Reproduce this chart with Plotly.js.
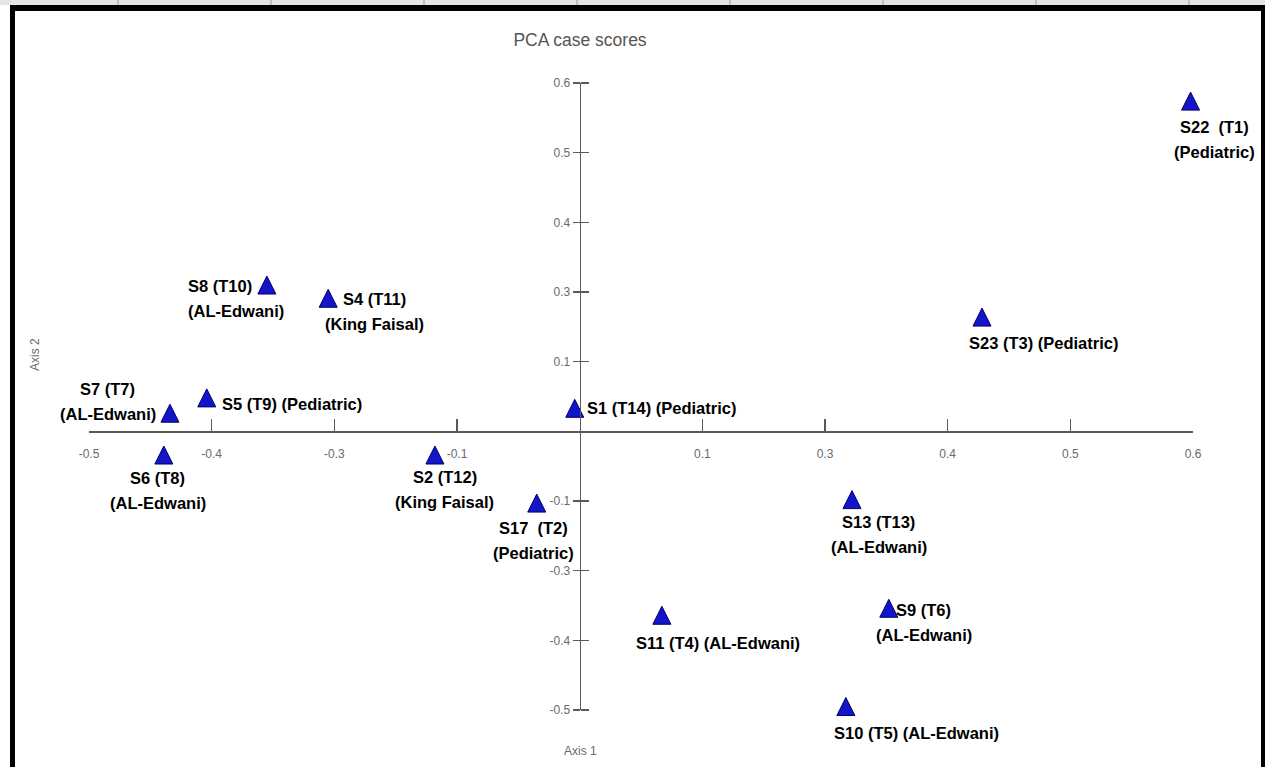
<!DOCTYPE html>
<html>
<head>
<meta charset="utf-8">
<script src="https://cdn.plot.ly/plotly-3.0.1.min.js"></script>
<style>
  html, body { margin: 0; padding: 0; background: #ffffff; }
  #chart { width: 1265px; height: 767px; }
</style>
</head>
<body>
<div id="chart"></div>
<script>
// ---- Data (axis units: one tick step = 0.1) ----
const sampleNames = ['S22','S23','S8','S4','S5','S7','S6','S1','S2','S17','S13','S9','S11','S10'];
const axis1Scores = [0.498, 0.328, -0.255, -0.205, -0.304, -0.334, -0.339, -0.004, -0.118, -0.035, 0.222, 0.252, 0.067, 0.217];
const axis2Scores = [0.474, 0.164, 0.210, 0.191, 0.048, 0.026, -0.034, 0.033, -0.034, -0.103, -0.098, -0.254, -0.264, -0.395];
const pointLabels = [
  'S22  (T1)<br>(Pediatric)',
  'S23 (T3) (Pediatric)',
  'S8 (T10)<br>(AL-Edwani)',
  'S4 (T11)<br>(King Faisal)',
  'S5 (T9) (Pediatric)',
  'S7 (T7)<br>(AL-Edwani)',
  'S6 (T8)<br>(AL-Edwani)',
  'S1 (T14) (Pediatric)',
  'S2 (T12)<br>(King Faisal)',
  'S17  (T2)<br>(Pediatric)',
  'S13 (T13)<br>(AL-Edwani)',
  'S9 (T6)<br>(AL-Edwani)',
  'S11 (T4) (AL-Edwani)',
  'S10 (T5) (AL-Edwani)'
];
const xTickVals = [-0.4, -0.3, -0.2, -0.1, 0.1, 0.2, 0.3, 0.4, 0.5];
const xTickText = ['-0.5', '-0.4', '-0.3', '-0.1', '0.1', '0.3', '0.4', '0.5', '0.6'];
const yTickVals = [0.5, 0.4, 0.3, 0.2, 0.1, -0.1, -0.2, -0.3, -0.4];
const yTickText = ['0.6', '0.5', '0.4', '0.3', '0.1', '-0.1', '-0.3', '-0.4', '-0.5'];

// ---- Label placement (pixel offsets of the label block centre from each marker) ----
const labelPlacement = [
  {anchor:'center', dx: 24, dy: 38},
  {anchor:'left',   dx:-15, dy: 26},
  {anchor:'left',   dx:-81, dy: 13},
  {anchor:'center', dx: 46, dy: 13},
  {anchor:'left',   dx: 13, dy: 6},
  {anchor:'center', dx:-62, dy:-12},
  {anchor:'center', dx: -6, dy: 35},
  {anchor:'left',   dx: 10, dy: 0},
  {anchor:'center', dx: 10, dy: 34},
  {anchor:'center', dx: -3, dy: 37},
  {anchor:'center', dx: 27, dy: 35},
  {anchor:'center', dx: 35, dy: 14},
  {anchor:'left',   dx:-28, dy: 28},
  {anchor:'left',   dx:-14, dy: 26}
];
const lineGap = 25;

const W = 1265, H = 767;
const M = {l: 89, r: 72, t: 83, b: 57};
const xRange = [-0.4, 0.5], yRange = [-0.4, 0.5];
const plotW = W - M.l - M.r, plotH = H - M.t - M.b;
const px2x = p => (p - M.l) / plotW;
const px2y = p => (H - M.b - p) / plotH;

// marker: 'arrow-up' has its tip on the data point; an overlay axis shifted by half
// the marker height centres the triangle on the point.
const markerSize = 18;
const halfShift = (markerSize / 2) * (yRange[1] - yRange[0]) / plotH;
const markerYRange = [yRange[0] - halfShift, yRange[1] - halfShift];

const axisGrey = '#5a5a5a';
const smallFont = {family: 'Liberation Sans, Arial, sans-serif', size: 12, color: '#6a6a6a'};
const labelFont = {family: 'Liberation Sans, Arial, sans-serif', size: 16.5, color: '#000000', weight: 'bold'};

const zeroPosX = (0 - yRange[0]) / (yRange[1] - yRange[0]);
const zeroPosY = (0 - xRange[0]) / (xRange[1] - xRange[0]);

const traces = [
  { type: 'scatter', mode: 'markers', x: [], y: [], yaxis: 'y2', showlegend: false, hoverinfo: 'skip' },
  {
    type: 'scatter', mode: 'markers', yaxis: 'y3',
    x: axis1Scores, y: axis2Scores, text: sampleNames,
    marker: {symbol: 'arrow-up', size: markerSize, color: '#1414c8', line: {color: '#00006a', width: 1}},
    cliponaxis: false, hoverinfo: 'text', showlegend: false
  }
];

const annotations = [];
pointLabels.forEach((t, i) => {
  const lines = t.split('<br>');
  const p = labelPlacement[i];
  lines.forEach((ln, k) => {
    annotations.push({
      x: axis1Scores[i], y: axis2Scores[i], xref: 'x', yref: 'y',
      text: ln, showarrow: false,
      xanchor: p.anchor, yanchor: 'middle', align: p.anchor,
      xshift: p.dx, yshift: -(p.dy + (k - (lines.length - 1) / 2) * lineGap),
      font: labelFont
    });
  });
});
annotations.push({
  xref: 'paper', yref: 'paper', x: px2x(580), y: px2y(751), text: 'Axis 1', showarrow: false,
  xanchor: 'center', yanchor: 'middle', font: smallFont
});
annotations.push({
  xref: 'paper', yref: 'paper', x: px2x(35), y: px2y(355), text: 'Axis 2', showarrow: false, textangle: -90,
  xanchor: 'center', yanchor: 'middle', font: smallFont
});

// page frame (decoration)
const shapes = [
  {type:'rect', xref:'paper', yref:'paper', x0: px2x(0), x1: px2x(W), y0: px2y(0), y1: px2y(5), fillcolor:'#e6e6e6', line:{width:0}, layer:'below'},
  {type:'rect', xref:'paper', yref:'paper', x0: px2x(10), x1: px2x(W), y0: px2y(5), y1: px2y(11), fillcolor:'#000000', line:{width:0}},
  {type:'rect', xref:'paper', yref:'paper', x0: px2x(10), x1: px2x(15), y0: px2y(5), y1: px2y(H), fillcolor:'#000000', line:{width:0}},
  {type:'rect', xref:'paper', yref:'paper', x0: px2x(1261), x1: px2x(W), y0: px2y(5), y1: px2y(H), fillcolor:'#000000', line:{width:0}}
];
for (let sx = 118; sx < W; sx += 153) {
  shapes.push({type:'line', xref:'paper', yref:'paper', x0: px2x(sx), x1: px2x(sx), y0: px2y(0), y1: px2y(5), line:{color:'#9a9a9a', width:1}});
}

const layout = {
  width: W, height: H,
  margin: M,
  paper_bgcolor: '#ffffff', plot_bgcolor: '#ffffff',
  showlegend: false,
  title: {
    text: 'PCA case scores', x: 580 / W, xanchor: 'center',
    y: 1 - 40 / H, yanchor: 'middle',
    font: {family: 'Liberation Sans, Arial, sans-serif', size: 17.5, color: '#555555'}
  },
  xaxis: {
    range: xRange, anchor: 'free', position: zeroPosX,
    showgrid: false, zeroline: false, showline: true, linecolor: axisGrey, linewidth: 1.5,
    ticks: 'inside', ticklen: 12, tickwidth: 1.5, tickcolor: axisGrey,
    tickmode: 'array', tickvals: xTickVals, ticktext: xTickText,
    tickfont: smallFont, ticklabelstandoff: 11, fixedrange: true
  },
  yaxis: {
    range: yRange, anchor: 'free', position: zeroPosY,
    showgrid: false, zeroline: false, showline: true, linecolor: axisGrey, linewidth: 1.5,
    ticks: 'outside', ticklen: 7, tickwidth: 1.5, tickcolor: axisGrey,
    tickmode: 'array', tickvals: yTickVals, ticktext: yTickText,
    tickfont: smallFont, ticklabelstandoff: 0, fixedrange: true
  },
  yaxis2: {
    range: yRange, overlaying: 'y', anchor: 'free', position: zeroPosY, side: 'right',
    showgrid: false, zeroline: false, showline: false,
    ticks: 'outside', ticklen: 8, tickwidth: 1.5, tickcolor: axisGrey,
    tickmode: 'array', tickvals: yTickVals, showticklabels: false, fixedrange: true
  },
  yaxis3: {
    range: markerYRange, overlaying: 'y', anchor: 'x', visible: false, fixedrange: true
  },
  annotations: annotations,
  shapes: shapes
};

Plotly.newPlot('chart', traces, layout, {displayModeBar: false, staticPlot: true});
</script>
</body>
</html>
